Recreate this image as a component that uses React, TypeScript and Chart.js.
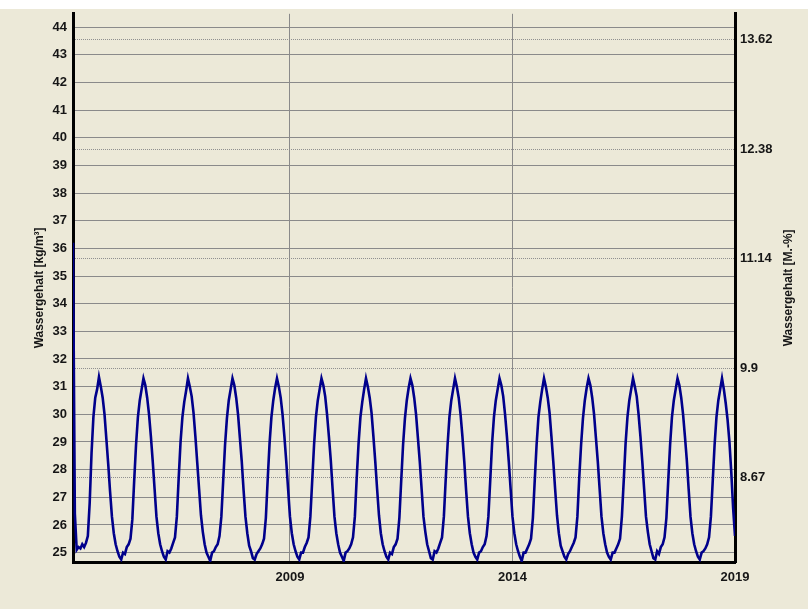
import { useEffect, useRef } from "react";
import { Chart, registerables } from "chart.js";

Chart.register(...registerables);

// ---- data ----
const START_YEAR = 2004.125; // left edge of the plot
const END_YEAR = 2019;
const STEPS_PER_YEAR = 24; // semi-monthly readings

// Wassergehalt [kg/m³] (semi-monthly)
const initialPhase = [
  36.2, 26.4, 25.1, 25.2, 25.15, 25.3, 25.2, 25.35, 25.6, 26.8, 28.6, 29.9, 30.6,
  30.9, 31.35, 31.0, 30.6, 30.0, 29.1, 28.2, 27.2, 26.3, 25.7, 25.3, 25.05, 24.85,
];
const season2005 = [24.75, 25.0, 24.95, 25.2, 25.3, 25.5, 26.2, 27.6, 28.9, 29.9, 30.5, 30.9, 31.3, 31.05, 30.6, 30.0, 29.2, 28.3, 27.3, 26.3, 25.7, 25.3, 25.05, 24.85];
const season2006 = [24.75, 25.05, 25.0, 25.15, 25.35, 25.55, 26.3, 27.7, 29.0, 29.9, 30.45, 30.85, 31.3, 31.0, 30.65, 30.05, 29.2, 28.25, 27.3, 26.35, 25.75, 25.3, 25.0, 24.85];
const season2007 = [24.7, 25.0, 25.05, 25.2, 25.3, 25.6, 26.3, 27.6, 28.9, 29.85, 30.5, 30.9, 31.3, 31.05, 30.6, 30.0, 29.15, 28.3, 27.25, 26.3, 25.7, 25.25, 25.05, 24.8];
const season2008 = [24.75, 24.95, 25.05, 25.15, 25.3, 25.5, 26.25, 27.65, 28.95, 29.9, 30.5, 30.95, 31.3, 31.0, 30.6, 30.0, 29.2, 28.3, 27.3, 26.3, 25.7, 25.3, 25.05, 24.85];
const season2009 = [24.75, 25.0, 25.0, 25.2, 25.35, 25.55, 26.3, 27.6, 28.9, 29.9, 30.5, 30.9, 31.3, 31.05, 30.65, 30.0, 29.2, 28.35, 27.3, 26.3, 25.7, 25.3, 25.0, 24.85];
const season2010 = [24.7, 25.0, 25.05, 25.15, 25.3, 25.55, 26.3, 27.7, 28.95, 29.9, 30.45, 30.9, 31.3, 31.0, 30.6, 30.05, 29.2, 28.3, 27.3, 26.35, 25.7, 25.3, 25.05, 24.85];
const season2011 = [24.75, 25.0, 24.95, 25.2, 25.3, 25.5, 26.25, 27.6, 28.9, 29.85, 30.5, 30.95, 31.3, 31.05, 30.6, 30.0, 29.15, 28.3, 27.3, 26.3, 25.75, 25.3, 25.05, 24.8];
const season2012 = [24.75, 25.05, 25.0, 25.15, 25.35, 25.55, 26.3, 27.65, 28.9, 29.9, 30.5, 30.9, 31.3, 31.0, 30.6, 30.0, 29.2, 28.3, 27.25, 26.3, 25.7, 25.3, 25.0, 24.85];
const season2013 = [24.75, 25.0, 25.05, 25.2, 25.3, 25.6, 26.3, 27.6, 28.95, 29.9, 30.5, 30.9, 31.3, 31.05, 30.65, 30.0, 29.2, 28.3, 27.3, 26.3, 25.7, 25.3, 25.05, 24.85];
const season2014 = [24.7, 25.0, 25.0, 25.15, 25.3, 25.5, 26.25, 27.6, 28.9, 29.9, 30.45, 30.9, 31.3, 31.0, 30.6, 30.05, 29.2, 28.3, 27.3, 26.35, 25.7, 25.25, 25.05, 24.85];
const season2015 = [24.75, 24.95, 25.05, 25.2, 25.35, 25.55, 26.3, 27.7, 28.9, 29.85, 30.5, 30.95, 31.3, 31.05, 30.6, 30.0, 29.15, 28.3, 27.3, 26.3, 25.7, 25.3, 25.0, 24.85];
const season2016 = [24.75, 25.0, 25.0, 25.15, 25.3, 25.5, 26.3, 27.6, 28.95, 29.9, 30.5, 30.9, 31.3, 31.0, 30.65, 30.0, 29.2, 28.3, 27.3, 26.3, 25.75, 25.3, 25.05, 24.8];
const season2017 = [24.75, 25.05, 24.95, 25.2, 25.3, 25.55, 26.25, 27.6, 28.9, 29.9, 30.5, 30.9, 31.3, 31.05, 30.6, 30.0, 29.2, 28.35, 27.3, 26.3, 25.7, 25.3, 25.05, 24.85];
const season2018 = [24.75, 25.0, 25.05, 25.15, 25.3, 25.55, 26.3, 27.6, 28.9, 29.9, 30.5, 30.9, 31.3, 30.9, 30.4, 29.8, 29.0, 27.9, 26.6, 25.6];

const waterContent = [
  ...initialPhase, ...season2005, ...season2006, ...season2007, ...season2008,
  ...season2009, ...season2010, ...season2011, ...season2012, ...season2013,
  ...season2014, ...season2015, ...season2016, ...season2017, ...season2018,
];

// axes
const Y_MIN = 24.66;
const Y_MAX = 44.48;
const KG_TO_MASS_PERCENT = 0.3127;
const leftTickValues = [25, 26, 27, 28, 29, 30, 31, 32, 33, 34, 35, 36, 37, 38, 39, 40, 41, 42, 43, 44];
const rightTickValues = [8.67, 9.9, 11.14, 12.38, 13.62];
const xTickYears = [2009, 2014, 2019];
const leftTitle = "Wassergehalt [kg/m³]";
const rightTitle = "Wassergehalt [M.-%]";

const FONT = '"Liberation Sans", Arial, sans-serif';
const TEXT_COLOR = "#161616";
const BG = "#ECE9D8";

const backgroundPlugin = {
  id: "bg",
  beforeDraw(chart: any) {
    const { ctx, width, height } = chart;
    ctx.save();
    ctx.fillStyle = BG;
    ctx.fillRect(0, 9, width, height - 9);
    ctx.restore();
  },
};

const titlePlugin = {
  id: "axisTitles",
  afterDraw(chart: any) {
    const { ctx, chartArea } = chart;
    const cy = (chartArea.top + chartArea.bottom) / 2;
    ctx.save();
    ctx.font = `bold 12px ${FONT}`;
    ctx.fillStyle = TEXT_COLOR;
    ctx.textAlign = "center";
    ctx.textBaseline = "middle";
    ctx.save();
    ctx.translate(chartArea.left - 33, cy);
    ctx.rotate(-Math.PI / 2);
    ctx.fillText(leftTitle, 0, 0);
    ctx.restore();
    ctx.save();
    ctx.translate(chartArea.right + 54, cy);
    ctx.rotate(-Math.PI / 2);
    ctx.fillText(rightTitle, 0, 0);
    ctx.restore();
    ctx.restore();
  },
};

export default function App() {
  const ref = useRef<HTMLCanvasElement>(null);
  useEffect(() => {
    const points = waterContent.map((v, i) => ({ x: START_YEAR + i / STEPS_PER_YEAR, y: v }));
    const tickFont = { family: FONT, size: 13, weight: "bold" as const };
    const chart = new Chart(ref.current!, {
      type: "line",
      data: {
        datasets: [
          {
            data: points,
            borderColor: "#00008B",
            borderWidth: 2.6,
            pointRadius: 0,
            tension: 0,
            xAxisID: "x",
            yAxisID: "y",
          },
        ],
      },
      options: {
        animation: false,
        responsive: false,
        maintainAspectRatio: false,
        layout: { padding: { top: 9, left: 0, right: 0, bottom: 0 } },
        plugins: { legend: { display: false }, tooltip: { enabled: false } },
        scales: {
          x: {
            type: "linear",
            position: "bottom",
            min: START_YEAR,
            max: END_YEAR,
            afterBuildTicks: (s: any) => {
              s.ticks = xTickYears.map((v) => ({ value: v }));
            },
            afterFit: (s: any) => {
              s.height = 47;
            },
            grid: { color: "#8a8a8a", lineWidth: 1, drawTicks: false },
            border: { color: "#000", width: 3 },
            ticks: {
              padding: 8,
              font: tickFont,
              color: TEXT_COLOR,
              maxRotation: 0,
              autoSkip: false,
              callback: (v: any) => String(v),
            },
          },
          y: {
            type: "linear",
            position: "left",
            min: Y_MIN,
            max: Y_MAX,
            afterBuildTicks: (s: any) => {
              s.ticks = leftTickValues.map((v) => ({ value: v }));
            },
            afterFit: (s: any) => {
              s.width = 73;
            },
            grid: { color: "#8a8a8a", lineWidth: 1, drawTicks: false },
            border: { color: "#000", width: 3 },
            ticks: {
              padding: 6,
              font: tickFont,
              color: TEXT_COLOR,
              autoSkip: false,
              callback: (v: any) => String(v),
            },
          },
          y2: {
            type: "linear",
            position: "right",
            min: Y_MIN * KG_TO_MASS_PERCENT,
            max: Y_MAX * KG_TO_MASS_PERCENT,
            afterBuildTicks: (s: any) => {
              s.ticks = rightTickValues.map((v) => ({ value: v }));
            },
            afterFit: (s: any) => {
              s.width = 73;
            },
            grid: { color: "#909090", lineWidth: 1, drawTicks: false, drawOnChartArea: true },
            border: { color: "#000", width: 3, dash: [1, 1] },
            ticks: {
              padding: 5,
              font: tickFont,
              color: TEXT_COLOR,
              autoSkip: false,
              callback: (v: any) => String(v),
            },
          },
        },
      },
      plugins: [backgroundPlugin, titlePlugin],
    });
    return () => chart.destroy();
  }, []);

  return (
    <div style={{ position: "fixed", left: 0, top: 0, width: 808, height: 609, background: "#fff" }}>
      <canvas ref={ref} width={808} height={609} style={{ display: "block", width: 808, height: 609 }} />
    </div>
  );
}
